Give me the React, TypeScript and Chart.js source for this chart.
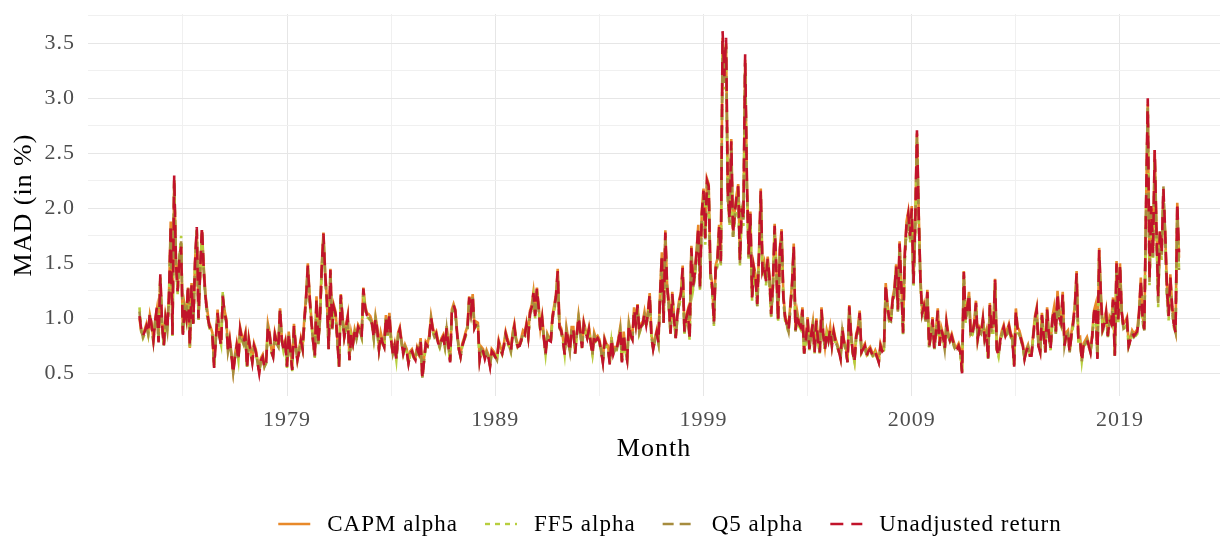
import { useEffect, useRef } from "react";
import { Chart, registerables } from "chart.js";
Chart.register(...registerables);

const START_YEAR = 1971;
const START_MONTH = 11; // first month: December 1971 (0-based month), one value per month
const SERIES_NAMES = ["CAPM alpha", "FF5 alpha", "Q5 alpha", "Unadjusted return"];
const X_TICKS = [1974, 1979, 1984, 1989, 1994, 1999, 2004, 2009, 2014, 2019];
const X_LABELED = [1979, 1989, 1999, 2009, 2019];
const Y_TICKS = [0.5, 0.75, 1, 1.25, 1.5, 1.75, 2, 2.25, 2.5, 2.75, 3, 3.25, 3.5, 3.75];
const Y_LABELED = [0.5, 1, 1.5, 2, 2.5, 3, 3.5];

const CAPM_ALPHA = [
  1.00, 0.88, 0.85, 0.90, 0.95, 0.86, 1.03, 0.95, 0.81, 0.98, 1.08, 0.80,
  1.38, 0.97, 0.77, 1.02, 0.92, 1.22, 1.88, 0.88, 2.25, 1.55, 1.28, 1.52,
  1.68, 0.88, 1.12, 1.02, 1.28, 0.73, 1.32, 0.97, 1.52, 1.80, 1.03, 1.42,
  1.80, 1.47, 1.22, 1.08, 0.97, 0.92, 0.87, 0.58, 0.82, 1.08, 0.87, 0.77,
  1.18, 1.07, 1.00, 0.72, 0.82, 0.68, 0.52, 0.67, 0.77, 0.64, 0.92, 0.84,
  0.80, 0.87, 0.57, 0.82, 0.72, 0.62, 0.77, 0.72, 0.62, 0.52, 0.64, 0.67,
  0.57, 0.62, 0.95, 0.87, 0.72, 0.67, 0.87, 0.80, 0.76, 1.09, 0.82, 0.74,
  0.80, 0.58, 0.88, 0.72, 0.55, 0.95, 0.77, 0.64, 0.72, 0.82, 0.74, 1.00,
  1.21, 1.50, 1.22, 1.00, 0.82, 0.67, 1.20, 0.79, 1.02, 1.48, 1.78, 1.42,
  1.18, 0.74, 1.45, 0.93, 1.12, 1.06, 0.82, 0.58, 1.22, 1.02, 0.85, 0.94,
  1.03, 0.64, 0.87, 0.79, 0.90, 0.84, 0.94, 0.91, 0.85, 1.28, 1.12, 1.05,
  1.04, 1.02, 0.97, 0.84, 1.02, 0.92, 0.74, 0.87, 0.80, 0.76, 1.03, 0.87,
  1.05, 0.82, 0.70, 0.77, 0.64, 0.87, 0.92, 0.80, 0.70, 0.76, 0.72, 0.61,
  0.70, 0.72, 0.67, 0.64, 0.74, 0.70, 0.82, 0.47, 0.64, 0.79, 0.77, 0.85,
  1.02, 0.92, 0.85, 0.88, 0.80, 0.76, 0.82, 0.85, 0.76, 0.93, 0.77, 0.62,
  1.08, 1.13, 1.08, 0.88, 0.74, 0.67, 0.77, 0.82, 0.88, 0.93, 1.20, 1.08,
  1.22, 0.93, 0.97, 0.96, 0.64, 0.74, 0.72, 0.65, 0.71, 0.67, 0.58, 0.72,
  0.70, 0.67, 0.64, 0.80, 0.74, 0.70, 0.77, 0.88, 0.82, 0.77, 0.72, 0.87,
  0.95, 0.82, 0.76, 0.77, 0.82, 0.89, 0.87, 0.96, 0.85, 1.07, 1.12, 1.24,
  1.04, 1.28, 1.12, 0.91, 1.02, 0.84, 0.69, 0.86, 0.82, 0.81, 1.03, 1.12,
  1.22, 1.45, 0.94, 0.91, 0.82, 0.69, 0.92, 0.82, 0.72, 0.92, 0.92, 0.70,
  0.87, 1.03, 0.90, 0.75, 0.97, 0.90, 0.84, 0.92, 0.80, 0.69, 0.87, 0.82,
  0.84, 0.81, 0.72, 0.62, 0.82, 0.77, 0.75, 0.60, 0.83, 0.69, 0.74, 0.74,
  0.82, 0.92, 0.62, 0.88, 0.72, 0.64, 0.96, 0.87, 0.83, 1.10, 0.97, 1.13,
  0.89, 0.95, 0.97, 1.06, 0.96, 1.07, 1.23, 0.85, 0.74, 0.82, 0.89, 0.80,
  1.24, 1.60, 0.98, 1.80, 1.32, 1.15, 0.88, 1.24, 1.02, 0.84, 1.06, 1.17,
  1.24, 1.48, 0.90, 1.02, 1.08, 0.83, 1.66, 1.32, 1.43, 1.62, 1.85, 1.31,
  1.97, 2.18, 1.75, 2.27, 2.22, 1.43, 1.31, 0.98, 1.48, 1.54, 1.85, 1.54,
  3.55, 3.25, 3.50, 2.16, 1.92, 2.63, 1.79, 1.97, 2.12, 2.22, 1.54, 2.02,
  1.92, 3.35, 2.27, 1.60, 1.97, 1.21, 1.48, 1.39, 1.15, 1.62, 2.18, 1.45,
  1.51, 1.36, 1.56, 1.39, 1.06, 1.32, 1.86, 1.45, 1.00, 1.64, 1.81, 1.22,
  1.03, 0.97, 0.91, 1.12, 1.32, 1.68, 0.91, 1.06, 0.97, 0.94, 1.10, 0.70,
  0.82, 1.01, 0.74, 0.87, 0.97, 0.71, 1.00, 0.82, 0.71, 1.10, 0.87, 0.74,
  0.89, 0.82, 0.92, 0.77, 0.90, 0.82, 0.77, 0.72, 0.65, 0.92, 0.80, 0.74,
  0.62, 1.12, 0.87, 0.71, 0.62, 0.86, 0.92, 1.07, 0.71, 0.74, 0.77, 0.68,
  0.72, 0.74, 0.70, 0.67, 0.71, 0.67, 0.62, 0.77, 0.72, 0.74, 1.32, 1.13,
  1.02, 1.01, 1.19, 1.27, 1.49, 1.10, 1.70, 1.31, 0.89, 1.60, 1.88, 1.97,
  1.77, 2.02, 1.34, 1.88, 2.68, 1.97, 1.37, 1.07, 1.13, 1.01, 1.26, 0.76,
  0.87, 1.01, 0.74, 0.90, 1.09, 0.77, 0.92, 0.86, 0.74, 0.98, 0.87, 0.82,
  0.86, 0.80, 0.74, 0.74, 0.77, 0.71, 0.52, 1.43, 1.01, 1.12, 1.24, 0.86,
  0.89, 0.97, 1.16, 0.83, 0.92, 0.89, 1.01, 0.83, 0.89, 0.65, 1.14, 0.92,
  0.92, 1.36, 0.74, 0.68, 0.82, 0.89, 0.94, 0.86, 0.90, 0.95, 0.87, 0.83,
  0.58, 1.09, 0.92, 0.89, 0.83, 0.77, 0.65, 0.72, 0.76, 0.68, 0.68, 0.86,
  1.02, 1.10, 0.77, 0.71, 1.05, 0.87, 0.71, 1.10, 0.87, 0.74, 1.01, 1.10,
  0.89, 1.25, 1.02, 0.98, 1.24, 0.77, 0.87, 0.89, 0.71, 0.87, 0.98, 1.13,
  1.43, 0.82, 0.83, 0.63, 0.77, 0.80, 0.83, 0.77, 0.71, 0.86, 1.07, 1.13,
  0.65, 1.64, 1.22, 0.92, 0.97, 1.07, 0.86, 1.01, 0.97, 1.19, 0.68, 1.52,
  1.01, 1.50, 1.07, 0.95, 0.97, 1.01, 0.77, 0.82, 0.89, 0.86, 0.88, 0.90,
  1.07, 1.37, 1.02, 0.92, 2.00, 2.95, 1.37, 2.00, 1.61, 2.53, 1.83, 1.22,
  1.79, 1.61, 2.10, 1.79, 1.31, 1.04, 1.40, 1.13, 0.97, 0.89, 2.05, 1.55,
];

const FF5_ALPHA = [
  1.10, 0.88, 0.82, 0.86, 0.92, 0.85, 1.02, 0.92, 0.78, 0.95, 1.07, 0.80,
  1.36, 0.93, 0.74, 0.98, 0.88, 1.17, 1.80, 0.84, 2.22, 1.52, 1.22, 1.55,
  1.75, 0.86, 1.07, 0.98, 1.26, 0.74, 1.27, 0.93, 1.46, 1.78, 0.98, 1.42,
  1.78, 1.42, 1.18, 1.02, 0.93, 0.88, 0.84, 0.56, 0.82, 1.02, 0.83, 0.76,
  1.25, 1.02, 0.95, 0.69, 0.78, 0.65, 0.52, 0.64, 0.73, 0.62, 0.88, 0.80,
  0.76, 0.84, 0.56, 0.78, 0.69, 0.60, 0.73, 0.68, 0.60, 0.52, 0.61, 0.64,
  0.56, 0.59, 0.90, 0.83, 0.69, 0.64, 0.83, 0.76, 0.73, 1.05, 0.79, 0.70,
  0.76, 0.55, 0.84, 0.69, 0.52, 0.90, 0.74, 0.61, 0.69, 0.78, 0.71, 0.95,
  1.16, 1.44, 1.17, 0.96, 0.79, 0.64, 1.15, 0.76, 0.98, 1.42, 1.72, 1.37,
  1.13, 0.71, 1.40, 0.89, 1.07, 1.02, 0.79, 0.56, 1.18, 0.98, 0.82, 0.90,
  0.98, 0.62, 0.83, 0.76, 0.86, 0.80, 0.90, 0.87, 0.82, 1.23, 1.08, 1.01,
  1.00, 0.98, 0.93, 0.81, 0.98, 0.88, 0.71, 0.83, 0.77, 0.73, 0.99, 0.84,
  1.01, 0.79, 0.67, 0.74, 0.62, 0.83, 0.88, 0.77, 0.67, 0.73, 0.69, 0.59,
  0.67, 0.69, 0.64, 0.62, 0.71, 0.67, 0.78, 0.46, 0.62, 0.75, 0.74, 0.81,
  0.98, 0.88, 0.82, 0.84, 0.77, 0.73, 0.79, 0.81, 0.73, 0.89, 0.74, 0.61,
  1.04, 1.09, 1.04, 0.85, 0.71, 0.65, 0.74, 0.79, 0.84, 0.89, 1.16, 1.04,
  1.18, 0.90, 0.93, 0.92, 0.62, 0.71, 0.69, 0.63, 0.68, 0.64, 0.57, 0.69,
  0.67, 0.64, 0.62, 0.76, 0.71, 0.67, 0.74, 0.84, 0.78, 0.74, 0.69, 0.83,
  0.91, 0.79, 0.73, 0.74, 0.79, 0.85, 0.84, 0.92, 0.82, 1.02, 1.07, 1.19,
  1.00, 1.23, 1.07, 0.88, 0.98, 0.81, 0.67, 0.83, 0.79, 0.78, 0.99, 1.07,
  1.17, 1.38, 0.90, 0.87, 0.79, 0.67, 0.88, 0.79, 0.70, 0.88, 0.88, 0.68,
  0.84, 0.99, 0.86, 0.73, 0.93, 0.86, 0.81, 0.88, 0.77, 0.67, 0.83, 0.79,
  0.81, 0.78, 0.70, 0.61, 0.79, 0.74, 0.72, 0.59, 0.79, 0.67, 0.71, 0.71,
  0.79, 0.88, 0.61, 0.84, 0.70, 0.63, 0.92, 0.83, 0.80, 1.05, 0.93, 1.09,
  0.86, 0.91, 0.93, 1.01, 0.92, 1.02, 1.18, 0.82, 0.72, 0.79, 0.85, 0.77,
  1.18, 1.52, 0.94, 1.72, 1.26, 1.10, 0.85, 1.18, 0.98, 0.81, 1.01, 1.12,
  1.18, 1.40, 0.86, 0.97, 1.03, 0.80, 1.57, 1.26, 1.36, 1.54, 1.76, 1.25,
  1.88, 2.08, 1.67, 2.16, 2.12, 1.37, 1.25, 0.93, 1.41, 1.47, 1.76, 1.48,
  3.45, 3.08, 3.40, 2.06, 1.84, 2.50, 1.72, 1.88, 2.02, 2.12, 1.48, 1.93,
  1.84, 3.25, 2.16, 1.53, 1.88, 1.16, 1.41, 1.33, 1.10, 1.55, 2.08, 1.39,
  1.44, 1.30, 1.49, 1.33, 1.01, 1.26, 1.77, 1.39, 0.96, 1.56, 1.72, 1.17,
  0.98, 0.93, 0.87, 1.07, 1.26, 1.60, 0.87, 1.01, 0.93, 0.90, 1.05, 0.68,
  0.78, 0.96, 0.71, 0.83, 0.92, 0.68, 0.95, 0.78, 0.68, 1.04, 0.83, 0.71,
  0.85, 0.78, 0.87, 0.74, 0.85, 0.78, 0.74, 0.69, 0.63, 0.87, 0.76, 0.71,
  0.60, 1.07, 0.83, 0.68, 0.60, 0.82, 0.87, 1.01, 0.68, 0.71, 0.73, 0.65,
  0.69, 0.71, 0.67, 0.64, 0.68, 0.64, 0.60, 0.73, 0.69, 0.71, 1.26, 1.07,
  0.97, 0.96, 1.13, 1.21, 1.42, 1.05, 1.62, 1.25, 0.85, 1.52, 1.79, 1.88,
  1.69, 1.93, 1.28, 1.79, 2.60, 1.88, 1.31, 1.02, 1.08, 0.96, 1.20, 0.73,
  0.83, 0.96, 0.71, 0.85, 1.03, 0.74, 0.87, 0.82, 0.71, 0.93, 0.83, 0.78,
  0.82, 0.76, 0.71, 0.71, 0.73, 0.68, 0.51, 1.36, 0.96, 1.06, 1.18, 0.82,
  0.85, 0.92, 1.10, 0.79, 0.87, 0.85, 0.96, 0.79, 0.85, 0.63, 1.08, 0.87,
  0.87, 1.30, 0.71, 0.65, 0.78, 0.85, 0.89, 0.82, 0.85, 0.90, 0.83, 0.79,
  0.57, 1.03, 0.87, 0.85, 0.79, 0.74, 0.63, 0.69, 0.73, 0.66, 0.66, 0.82,
  0.97, 1.04, 0.74, 0.69, 0.99, 0.83, 0.69, 1.04, 0.83, 0.71, 0.96, 1.04,
  0.85, 1.18, 0.97, 0.93, 1.17, 0.74, 0.83, 0.85, 0.69, 0.83, 0.93, 1.07,
  1.35, 0.79, 0.79, 0.61, 0.74, 0.76, 0.79, 0.74, 0.69, 0.82, 1.01, 1.07,
  0.63, 1.55, 1.16, 0.88, 0.92, 1.01, 0.82, 0.96, 0.92, 1.12, 0.66, 1.44,
  0.96, 1.43, 1.01, 0.90, 0.92, 0.96, 0.74, 0.79, 0.85, 0.82, 0.84, 0.86,
  1.01, 1.30, 0.97, 0.88, 1.93, 2.88, 1.30, 1.94, 1.53, 2.42, 1.74, 1.10,
  1.74, 1.53, 2.10, 1.74, 1.20, 0.98, 1.32, 1.07, 0.92, 0.86, 1.96, 1.45,
];

const Q5_ALPHA = [
  1.06, 0.89, 0.83, 0.87, 0.92, 0.86, 1.04, 0.92, 0.79, 0.96, 1.08, 0.79,
  1.38, 0.94, 0.75, 0.99, 0.89, 1.18, 1.82, 0.85, 2.26, 1.50, 1.24, 1.56,
  1.70, 0.85, 1.08, 0.99, 1.28, 0.75, 1.28, 0.94, 1.48, 1.80, 0.99, 1.44,
  1.80, 1.44, 1.19, 1.04, 0.94, 0.89, 0.85, 0.56, 0.81, 1.03, 0.84, 0.76,
  1.22, 1.03, 0.96, 0.70, 0.79, 0.66, 0.51, 0.65, 0.74, 0.62, 0.89, 0.81,
  0.77, 0.84, 0.56, 0.79, 0.70, 0.60, 0.74, 0.69, 0.60, 0.51, 0.62, 0.65,
  0.56, 0.60, 0.91, 0.84, 0.70, 0.65, 0.84, 0.77, 0.74, 1.07, 0.80, 0.71,
  0.77, 0.56, 0.85, 0.70, 0.53, 0.91, 0.75, 0.62, 0.70, 0.79, 0.72, 0.96,
  1.17, 1.46, 1.18, 0.97, 0.80, 0.65, 1.16, 0.77, 0.99, 1.44, 1.74, 1.38,
  1.14, 0.72, 1.42, 0.90, 1.08, 1.03, 0.80, 0.56, 1.19, 0.99, 0.83, 0.91,
  0.99, 0.62, 0.84, 0.77, 0.87, 0.81, 0.91, 0.88, 0.83, 1.25, 1.09, 1.02,
  1.01, 0.99, 0.94, 0.82, 0.99, 0.89, 0.72, 0.84, 0.78, 0.74, 1.00, 0.85,
  1.02, 0.80, 0.68, 0.75, 0.62, 0.84, 0.89, 0.78, 0.68, 0.74, 0.70, 0.59,
  0.68, 0.70, 0.65, 0.62, 0.72, 0.68, 0.79, 0.46, 0.62, 0.76, 0.75, 0.82,
  0.99, 0.89, 0.83, 0.85, 0.78, 0.74, 0.80, 0.82, 0.74, 0.90, 0.75, 0.61,
  1.05, 1.10, 1.05, 0.86, 0.72, 0.65, 0.75, 0.80, 0.85, 0.90, 1.17, 1.05,
  1.19, 0.91, 0.94, 0.93, 0.62, 0.72, 0.70, 0.63, 0.69, 0.65, 0.57, 0.70,
  0.68, 0.65, 0.62, 0.77, 0.72, 0.68, 0.75, 0.85, 0.79, 0.75, 0.70, 0.84,
  0.92, 0.80, 0.74, 0.75, 0.80, 0.86, 0.85, 0.93, 0.83, 1.03, 1.08, 1.21,
  1.01, 1.25, 1.08, 0.89, 0.99, 0.82, 0.67, 0.84, 0.80, 0.79, 1.00, 1.08,
  1.18, 1.40, 0.91, 0.88, 0.80, 0.67, 0.89, 0.80, 0.70, 0.89, 0.89, 0.68,
  0.85, 1.00, 0.87, 0.73, 0.94, 0.87, 0.82, 0.89, 0.78, 0.67, 0.84, 0.80,
  0.82, 0.79, 0.70, 0.60, 0.80, 0.75, 0.73, 0.59, 0.80, 0.67, 0.72, 0.72,
  0.80, 0.89, 0.61, 0.85, 0.70, 0.62, 0.93, 0.84, 0.81, 1.06, 0.94, 1.10,
  0.87, 0.92, 0.94, 1.02, 0.93, 1.03, 1.20, 0.83, 0.72, 0.80, 0.86, 0.78,
  1.20, 1.55, 0.95, 1.75, 1.28, 1.11, 0.86, 1.20, 0.99, 0.82, 1.02, 1.13,
  1.20, 1.43, 0.87, 0.98, 1.04, 0.81, 1.60, 1.28, 1.38, 1.57, 1.79, 1.27,
  1.91, 2.12, 1.70, 2.20, 2.16, 1.39, 1.27, 0.95, 1.43, 1.49, 1.79, 1.50,
  3.52, 3.14, 3.47, 2.10, 1.87, 2.55, 1.74, 1.91, 2.06, 2.16, 1.50, 1.96,
  1.87, 3.32, 2.20, 1.55, 1.91, 1.17, 1.43, 1.35, 1.11, 1.57, 2.12, 1.41,
  1.46, 1.32, 1.51, 1.35, 1.02, 1.28, 1.80, 1.41, 0.97, 1.59, 1.75, 1.18,
  0.99, 0.94, 0.88, 1.08, 1.28, 1.63, 0.88, 1.02, 0.94, 0.91, 1.06, 0.68,
  0.79, 0.97, 0.72, 0.84, 0.93, 0.69, 0.96, 0.79, 0.69, 1.06, 0.84, 0.72,
  0.86, 0.79, 0.88, 0.75, 0.86, 0.79, 0.75, 0.70, 0.63, 0.88, 0.77, 0.72,
  0.60, 1.09, 0.84, 0.69, 0.60, 0.83, 0.88, 1.03, 0.69, 0.72, 0.74, 0.66,
  0.70, 0.72, 0.68, 0.65, 0.69, 0.65, 0.60, 0.74, 0.70, 0.72, 1.28, 1.09,
  0.98, 0.97, 1.15, 1.23, 1.44, 1.06, 1.65, 1.27, 0.86, 1.55, 1.82, 1.91,
  1.72, 1.96, 1.30, 1.82, 2.65, 1.91, 1.33, 1.03, 1.09, 0.97, 1.22, 0.74,
  0.84, 0.97, 0.72, 0.86, 1.05, 0.75, 0.88, 0.83, 0.72, 0.94, 0.84, 0.79,
  0.83, 0.77, 0.72, 0.72, 0.74, 0.69, 0.51, 1.39, 0.97, 1.08, 1.20, 0.83,
  0.86, 0.93, 1.12, 0.80, 0.88, 0.86, 0.97, 0.80, 0.86, 0.63, 1.10, 0.88,
  0.88, 1.32, 0.72, 0.66, 0.79, 0.86, 0.90, 0.83, 0.86, 0.91, 0.84, 0.80,
  0.57, 1.05, 0.88, 0.86, 0.80, 0.75, 0.63, 0.70, 0.74, 0.66, 0.66, 0.83,
  0.98, 1.06, 0.75, 0.69, 1.01, 0.84, 0.69, 1.06, 0.84, 0.72, 0.97, 1.06,
  0.86, 1.20, 0.98, 0.94, 1.19, 0.75, 0.84, 0.86, 0.69, 0.84, 0.94, 1.09,
  1.38, 0.80, 0.80, 0.61, 0.75, 0.77, 0.80, 0.75, 0.69, 0.83, 1.03, 1.09,
  0.63, 1.58, 1.18, 0.89, 0.93, 1.03, 0.83, 0.97, 0.93, 1.15, 0.66, 1.47,
  0.97, 1.46, 1.03, 0.91, 0.93, 0.97, 0.75, 0.80, 0.86, 0.83, 0.85, 0.87,
  1.03, 1.33, 0.98, 0.89, 1.97, 2.94, 1.33, 1.97, 1.56, 2.46, 1.77, 1.14,
  1.77, 1.56, 2.20, 1.77, 1.24, 1.00, 1.35, 1.09, 0.93, 0.87, 2.00, 1.44,
];

const UNADJUSTED_RETURN = [
  1.02, 0.90, 0.84, 0.88, 0.93, 0.87, 1.05, 0.93, 0.80, 0.97, 1.10, 0.78,
  1.40, 0.95, 0.75, 1.00, 0.90, 1.20, 1.85, 0.85, 2.30, 1.50, 1.25, 1.55,
  1.65, 0.85, 1.10, 1.00, 1.30, 0.75, 1.30, 0.95, 1.50, 1.83, 1.00, 1.45,
  1.83, 1.45, 1.20, 1.05, 0.95, 0.90, 0.85, 0.55, 0.80, 1.05, 0.85, 0.75,
  1.20, 1.05, 0.98, 0.70, 0.80, 0.66, 0.50, 0.65, 0.75, 0.62, 0.90, 0.82,
  0.78, 0.85, 0.55, 0.80, 0.70, 0.60, 0.75, 0.70, 0.60, 0.50, 0.62, 0.65,
  0.55, 0.60, 0.93, 0.85, 0.70, 0.65, 0.85, 0.78, 0.74, 1.09, 0.80, 0.72,
  0.78, 0.56, 0.86, 0.70, 0.53, 0.93, 0.75, 0.62, 0.70, 0.80, 0.72, 0.98,
  1.19, 1.48, 1.20, 0.98, 0.80, 0.65, 1.18, 0.77, 1.00, 1.46, 1.77, 1.40,
  1.16, 0.72, 1.44, 0.91, 1.10, 1.04, 0.80, 0.56, 1.21, 1.00, 0.83, 0.92,
  1.01, 0.62, 0.85, 0.77, 0.88, 0.82, 0.92, 0.89, 0.83, 1.27, 1.10, 1.03,
  1.02, 1.00, 0.95, 0.82, 1.00, 0.90, 0.72, 0.85, 0.78, 0.74, 1.01, 0.85,
  1.04, 0.80, 0.68, 0.75, 0.62, 0.85, 0.90, 0.78, 0.68, 0.74, 0.70, 0.59,
  0.68, 0.70, 0.65, 0.62, 0.72, 0.68, 0.80, 0.45, 0.62, 0.77, 0.75, 0.83,
  1.01, 0.90, 0.83, 0.86, 0.78, 0.74, 0.80, 0.83, 0.74, 0.91, 0.75, 0.60,
  1.07, 1.12, 1.07, 0.86, 0.72, 0.65, 0.75, 0.80, 0.86, 0.91, 1.19, 1.06,
  1.21, 0.91, 0.95, 0.94, 0.62, 0.72, 0.70, 0.63, 0.69, 0.65, 0.56, 0.70,
  0.68, 0.65, 0.62, 0.78, 0.72, 0.68, 0.75, 0.86, 0.80, 0.75, 0.70, 0.85,
  0.93, 0.80, 0.74, 0.75, 0.80, 0.87, 0.85, 0.94, 0.83, 1.05, 1.10, 1.23,
  1.02, 1.27, 1.10, 0.89, 1.00, 0.82, 0.67, 0.84, 0.80, 0.79, 1.01, 1.10,
  1.20, 1.43, 0.92, 0.89, 0.80, 0.67, 0.90, 0.80, 0.70, 0.90, 0.90, 0.68,
  0.85, 1.01, 0.88, 0.73, 0.95, 0.88, 0.82, 0.90, 0.78, 0.67, 0.85, 0.80,
  0.82, 0.79, 0.70, 0.60, 0.80, 0.75, 0.73, 0.58, 0.81, 0.67, 0.72, 0.72,
  0.80, 0.90, 0.60, 0.86, 0.70, 0.62, 0.94, 0.85, 0.81, 1.08, 0.95, 1.12,
  0.87, 0.93, 0.95, 1.04, 0.94, 1.05, 1.22, 0.83, 0.72, 0.80, 0.87, 0.78,
  1.22, 1.58, 0.96, 1.78, 1.30, 1.13, 0.86, 1.22, 1.00, 0.82, 1.04, 1.15,
  1.22, 1.46, 0.88, 1.00, 1.06, 0.81, 1.64, 1.30, 1.41, 1.60, 1.83, 1.29,
  1.95, 2.16, 1.73, 2.25, 2.20, 1.41, 1.29, 0.96, 1.46, 1.52, 1.83, 1.52,
  3.61, 3.20, 3.55, 2.14, 1.90, 2.61, 1.77, 1.95, 2.10, 2.20, 1.52, 2.00,
  1.90, 3.40, 2.25, 1.58, 1.95, 1.19, 1.46, 1.37, 1.13, 1.60, 2.16, 1.43,
  1.49, 1.34, 1.54, 1.37, 1.04, 1.30, 1.84, 1.43, 0.98, 1.62, 1.79, 1.20,
  1.01, 0.95, 0.89, 1.10, 1.30, 1.66, 0.89, 1.04, 0.95, 0.92, 1.08, 0.68,
  0.80, 0.99, 0.72, 0.85, 0.95, 0.69, 0.98, 0.80, 0.69, 1.08, 0.85, 0.72,
  0.87, 0.80, 0.90, 0.75, 0.88, 0.80, 0.75, 0.70, 0.63, 0.90, 0.78, 0.72,
  0.60, 1.11, 0.85, 0.69, 0.60, 0.84, 0.90, 1.05, 0.69, 0.72, 0.75, 0.66,
  0.70, 0.72, 0.68, 0.65, 0.69, 0.65, 0.60, 0.75, 0.70, 0.72, 1.31, 1.11,
  1.00, 0.99, 1.17, 1.25, 1.47, 1.08, 1.68, 1.29, 0.87, 1.58, 1.86, 1.95,
  1.75, 2.00, 1.32, 1.86, 2.71, 1.95, 1.35, 1.05, 1.11, 0.99, 1.24, 0.74,
  0.85, 0.99, 0.72, 0.88, 1.07, 0.75, 0.90, 0.84, 0.72, 0.96, 0.85, 0.80,
  0.84, 0.78, 0.72, 0.72, 0.75, 0.69, 0.50, 1.42, 0.99, 1.10, 1.22, 0.84,
  0.87, 0.95, 1.14, 0.81, 0.90, 0.87, 0.99, 0.81, 0.87, 0.63, 1.12, 0.90,
  0.90, 1.35, 0.72, 0.66, 0.80, 0.87, 0.92, 0.84, 0.88, 0.93, 0.85, 0.81,
  0.56, 1.07, 0.90, 0.87, 0.81, 0.75, 0.63, 0.70, 0.74, 0.66, 0.66, 0.84,
  1.00, 1.08, 0.75, 0.69, 1.03, 0.85, 0.69, 1.08, 0.85, 0.72, 0.99, 1.08,
  0.87, 1.23, 1.00, 0.96, 1.22, 0.75, 0.85, 0.87, 0.69, 0.85, 0.96, 1.11,
  1.41, 0.80, 0.81, 0.61, 0.75, 0.78, 0.81, 0.75, 0.69, 0.84, 1.05, 1.11,
  0.63, 1.62, 1.20, 0.90, 0.95, 1.05, 0.84, 0.99, 0.95, 1.17, 0.66, 1.50,
  0.99, 1.49, 1.05, 0.93, 0.95, 0.99, 0.75, 0.80, 0.87, 0.84, 0.86, 0.88,
  1.05, 1.35, 1.00, 0.90, 2.02, 3.00, 1.35, 2.02, 1.59, 2.53, 1.81, 1.20,
  1.81, 1.59, 2.18, 1.81, 1.29, 1.02, 1.38, 1.11, 0.95, 0.87, 2.05, 1.60,
];

const SERIES_VALUES = [CAPM_ALPHA, FF5_ALPHA, Q5_ALPHA, UNADJUSTED_RETURN];
const SERIES_COLORS = ["#E8892A", "#B7CE3E", "#A68C3E", "#C1132B"];
const SERIES_DASH = [[], [5, 5], [11, 6], [13, 8]];
const SERIES_ORDER = [4, 3, 2, 1];

const FONT = "'Liberation Serif', 'Times New Roman', serif";

const spacingPlugin = {
  id: "textSpacing",
  beforeDraw(chart: any) {
    (chart.ctx as any).letterSpacing = "1px";
  },
};

const legendPlugin = {
  id: "bottomLegend",
  afterDraw(chart: any) {
    const ctx = chart.ctx;
    ctx.save();
    (ctx as any).letterSpacing = "1px";
    ctx.font = `23px ${FONT}`;
    const KEY = 32;
    const KEY_GAP = 17;
    const ITEM_GAP = 27;
    const widths = SERIES_NAMES.map((n) => ctx.measureText(n).width);
    const total =
      widths.reduce((a, w) => a + KEY + KEY_GAP + w, 0) + ITEM_GAP * (SERIES_NAMES.length - 1);
    let x = 670 - total / 2;
    const y = 524;
    SERIES_NAMES.forEach((name, i) => {
      ctx.strokeStyle = SERIES_COLORS[i];
      ctx.lineWidth = 2.4;
      ctx.setLineDash(SERIES_DASH[i]);
      ctx.beginPath();
      ctx.moveTo(x, y);
      ctx.lineTo(x + KEY, y);
      ctx.stroke();
      ctx.setLineDash([]);
      ctx.fillStyle = "#000";
      ctx.textBaseline = "middle";
      ctx.textAlign = "left";
      ctx.fillText(name, x + KEY + KEY_GAP, y + 1);
      x += KEY + KEY_GAP + widths[i] + ITEM_GAP;
    });
    ctx.restore();
  },
};

export default function App() {
  const ref = useRef<HTMLCanvasElement | null>(null);
  useEffect(() => {
    document.body.style.margin = "0";
    const canvas = ref.current!;
    const datasets = SERIES_NAMES.map((name, s) => ({
      label: name,
      data: SERIES_VALUES[s].map((v, i) => ({ x: START_YEAR + (START_MONTH + i) / 12, y: v })),
      borderColor: SERIES_COLORS[s],
      backgroundColor: SERIES_COLORS[s],
      borderWidth: 2.6,
      borderDash: SERIES_DASH[s],
      borderCapStyle: "butt",
      pointRadius: 0,
      tension: 0,
      fill: false,
      order: SERIES_ORDER[s],
    }));
    const chart = new Chart(canvas, {
      type: "line",
      data: { datasets },
      options: {
        responsive: false,
        animation: false,
        events: [],
        layout: { padding: { top: 14, left: 0, right: 0, bottom: 0 } },
        plugins: { legend: { display: false }, tooltip: { enabled: false }, title: { display: false } },
        scales: {
          x: {
            type: "linear",
            min: 1969.444,
            max: 2023.802,
            afterBuildTicks: (s: any) => {
              s.ticks = X_TICKS.map((v) => ({ value: v }));
            },
            afterFit: (s: any) => {
              s.height = 140;
              s.paddingLeft = 0;
              s.paddingRight = 0;
            },
            border: { display: false },
            grid: {
              color: (c: any) => (X_LABELED.includes(c.tick?.value) ? "#E6E6E6" : "#F0F0F0"),
              drawTicks: false,
              lineWidth: 1,
            },
            ticks: {
              autoSkip: false,
              maxRotation: 0,
              padding: 11,
              color: "#4D4D4D",
              font: { family: FONT, size: 22 },
              callback: (v: any) => (X_LABELED.includes(v) ? String(v) : ""),
            },
            title: {
              display: true,
              text: "Month",
              color: "#000",
              font: { family: FONT, size: 26 },
              padding: { top: 0, bottom: 71 },
            },
          },
          y: {
            type: "linear",
            min: 0.294,
            max: 3.766,
            afterBuildTicks: (s: any) => {
              s.ticks = Y_TICKS.map((v) => ({ value: v }));
            },
            afterFit: (s: any) => {
              s.width = 88;
              s.paddingTop = 0;
              s.paddingBottom = 0;
            },
            border: { display: false },
            grid: {
              color: (c: any) => (Y_LABELED.includes(c.tick?.value) ? "#E6E6E6" : "#F0F0F0"),
              drawTicks: false,
              lineWidth: 1,
            },
            ticks: {
              autoSkip: false,
              padding: 13,
              color: "#4D4D4D",
              font: { family: FONT, size: 22 },
              callback: (v: any) => (Y_LABELED.includes(v) ? Number(v).toFixed(1) : ""),
            },
            title: {
              display: true,
              text: "MAD (in %)",
              color: "#000",
              font: { family: FONT, size: 26 },
              padding: { top: 9, bottom: 0 },
            },
          },
        },
      },
      plugins: [spacingPlugin, legendPlugin],
    } as any);
    return () => chart.destroy();
  }, []);
  return <canvas ref={ref} width={1220} height={536} style={{ display: "block" }} />;
}
